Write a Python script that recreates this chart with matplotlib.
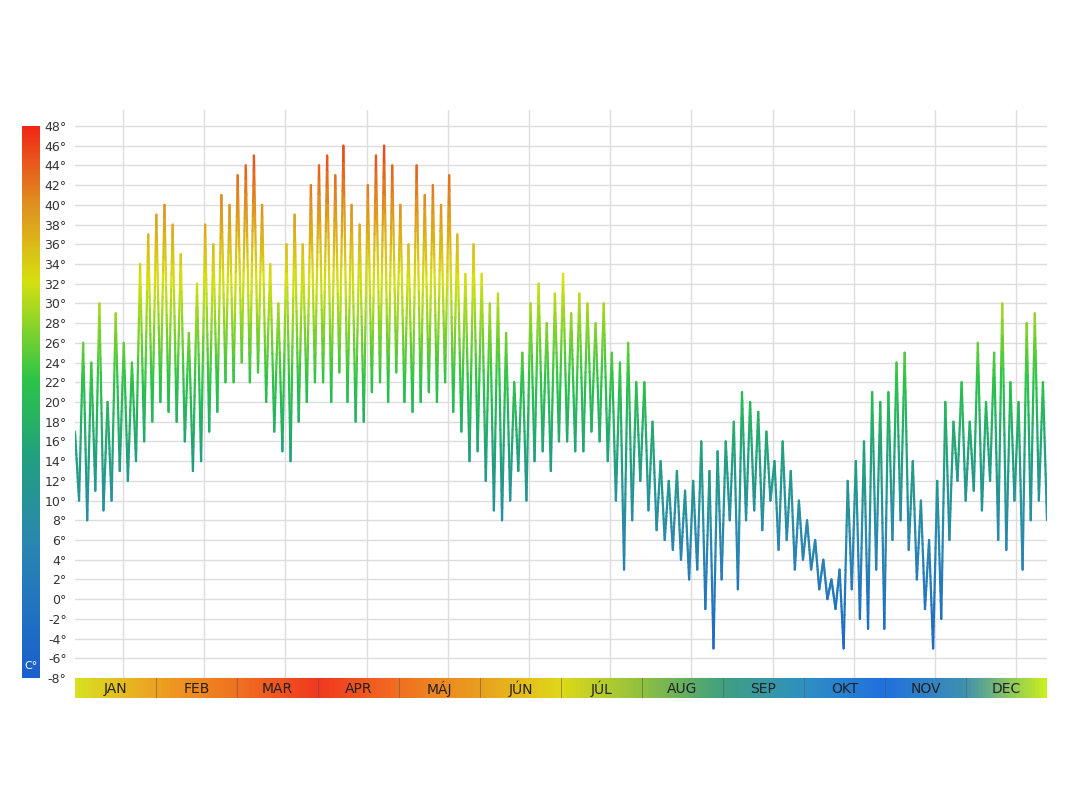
import numpy as np
import matplotlib
matplotlib.use("Agg")
import matplotlib.pyplot as plt
from matplotlib.collections import LineCollection
from matplotlib.colors import LinearSegmentedColormap

months = ["JAN", "FEB", "MAR", "APR", "MÁJ", "JÚN", "JÚL", "AUG", "SEP", "OKT", "NOV", "DEC"]
highs = [
    [17, 26, 24, 30, 20, 29, 26, 24, 34, 37],
    [39, 40, 38, 35, 27, 32, 38, 36, 41, 40],
    [43, 44, 45, 40, 34, 30, 36, 39, 36, 42],
    [44, 45, 43, 46, 40, 38, 42, 45, 46, 44],
    [40, 36, 44, 41, 42, 40, 43, 37, 33, 36],
    [33, 30, 31, 27, 22, 25, 30, 32, 28, 31],
    [33, 29, 31, 30, 28, 30, 25, 24, 26, 22],
    [22, 18, 14, 12, 13, 11, 12, 16, 13, 15],
    [16, 18, 21, 20, 19, 17, 14, 16, 13, 10],
    [8, 6, 4, 2, 3, 12, 14, 16, 21, 20],
    [21, 24, 25, 14, 10, 6, 12, 20, 18, 22],
    [18, 26, 20, 25, 30, 22, 20, 28, 29, 22],
]
lows = [
    [10, 8, 11, 9, 10, 13, 12, 14, 16, 18],
    [20, 19, 18, 16, 13, 14, 17, 19, 22, 22],
    [24, 22, 23, 20, 17, 15, 14, 18, 20, 22],
    [22, 20, 23, 20, 18, 18, 21, 22, 20, 23],
    [20, 19, 20, 21, 20, 22, 19, 17, 14, 15],
    [12, 9, 8, 10, 13, 10, 14, 15, 13, 16],
    [16, 15, 15, 17, 16, 14, 10, 3, 8, 12],
    [9, 7, 6, 5, 4, 2, 3, -1, -5, 2],
    [8, 1, 8, 9, 7, 10, 5, 6, 3, 4],
    [3, 1, 0, -1, -5, 1, -2, -3, 3, -3],
    [6, 8, 5, 2, -1, -5, -2, 6, 12, 10],
    [11, 9, 12, 6, 5, 10, 3, 8, 10, 8],
]
yticks = list(range(-8, 49, 2))

vals = []
for h, l in zip(highs, lows):
    for a, b in zip(h, l):
        vals += [a, b]
vals = np.array(vals, float)
x = np.linspace(0, 365, len(vals))

cmap = LinearSegmentedColormap.from_list("t", [
    (0.0, "#1a5fd0"), (0.25, "#2a88b0"), (0.4, "#22a080"), (0.54, "#2cc448"),
    (0.72, "#d6e010"), (0.86, "#e09020"), (1.0, "#f02818")])
norm = plt.Normalize(-8, 48)

fig = plt.figure(figsize=(10.8, 8.1), dpi=100)
W, H = 1080, 810
ax = fig.add_axes([75 / W, 1 - 678 / H, 972 / W, (678 - 110) / H])
ax.set_xlim(0, 365)
ax.set_ylim(-8, 48 + 16 / 9.86)
for y in yticks:
    ax.axhline(y, color="#dddddd", lw=1, zorder=0)
for k in range(12):
    ax.axvline(18 + 30.5 * k, color="#dddddd", lw=1, zorder=0)
for s in ax.spines.values():
    s.set_visible(False)
ax.set_xticks([])
ax.set_yticks(yticks)
ax.set_yticklabels([f"{t}°" for t in yticks], fontsize=9, color="#333333")
ax.tick_params(axis="y", length=0, pad=6)

# subdivide for gradient rendering
sx, sy = [], []
for i in range(len(vals) - 1):
    t = np.linspace(0, 1, 16)
    sx.append(x[i] + t * (x[i + 1] - x[i]))
    sy.append(vals[i] + t * (vals[i + 1] - vals[i]))
px = np.concatenate(sx)
py = np.concatenate(sy)
pts = np.array([px, py]).T.reshape(-1, 1, 2)
segs = np.concatenate([pts[:-1], pts[1:]], axis=1)
lc = LineCollection(segs, cmap=cmap, norm=norm, linewidths=1.6, capstyle="round")
lc.set_array((py[:-1] + py[1:]) / 2)
ax.add_collection(lc)

# colorbar
cax = fig.add_axes([22 / W, 1 - 678 / H, 18 / W, (678 - 126) / H])
grad = np.linspace(-8, 48, 256).reshape(-1, 1)
cax.imshow(grad, aspect="auto", cmap=cmap, norm=norm, origin="lower", extent=[0, 1, -8, 48])
cax.set_xticks([]); cax.set_yticks([])
for s in cax.spines.values():
    s.set_visible(False)
cax.text(0.5, -6.8, "C°", color="white", ha="center", va="center", fontsize=8)

# month bar
bax = fig.add_axes([75 / W, 1 - 698 / H, 972 / W, 20 / H])
mcols = ["#d8e020", "#eea020", "#f07020", "#f03820", "#f07020", "#e8a020",
         "#e0d818", "#90c040", "#40a080", "#3090c0", "#2070e0", "#4090b0", "#c8f020"]
mcm = LinearSegmentedColormap.from_list("m", list(zip(np.linspace(0, 1, 13), mcols)))
bax.imshow(np.linspace(0, 1, 512).reshape(1, -1), aspect="auto", cmap=mcm, extent=[0, 12, 0, 1])
bax.set_xlim(0, 12); bax.set_ylim(0, 1)
for k in range(1, 12):
    bax.axvline(k, color="#555555", lw=0.6, alpha=0.6)
for k, m in enumerate(months):
    bax.text(k + 0.5, 0.45, m, ha="center", va="center", fontsize=10, color="#222222")
bax.set_xticks([]); bax.set_yticks([])
for s in bax.spines.values():
    s.set_visible(False)

fig.savefig("out.png", dpi=100)
